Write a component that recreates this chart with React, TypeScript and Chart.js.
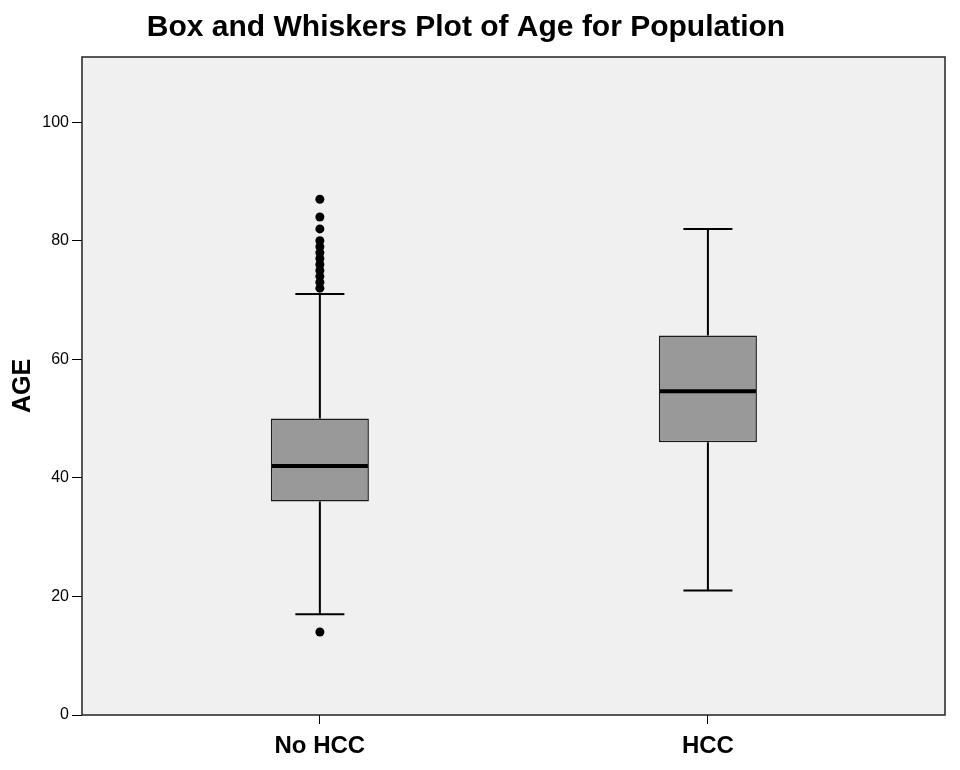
import React, { useEffect, useRef } from "react";
import { Chart, registerables } from "chart.js";

Chart.register(...registerables);

const title = "Box and Whiskers Plot of Age for Population";
const categories = ["No HCC", "HCC"];
const q1 = [36, 46];
const q3 = [50, 64];
const medians = [42, 54.6];
const whiskerLow = [17, 21];
const whiskerHigh = [71, 82];
const outliersNoHCC = [14, 72, 73, 74, 75, 76, 77, 78, 79, 80, 82, 84, 87];
const outliersHCC: number[] = [];
const yTicks = [0, 20, 40, 60, 80, 100];

const FONT = "'Liberation Sans', Arial, sans-serif";

const framePlugin = {
  id: "frame",
  beforeDraw(chart: any) {
    const { ctx, chartArea: a } = chart;
    ctx.save();
    ctx.fillStyle = "#ffffff";
    ctx.fillRect(0, 0, chart.width, chart.height);
    ctx.fillStyle = "#f0f0f0";
    ctx.fillRect(a.left, a.top, a.right - a.left, a.bottom - a.top);
    ctx.restore();
  },
  afterDraw(chart: any) {
    const { ctx, chartArea: a } = chart;
    ctx.save();
    ctx.strokeStyle = "#222222";
    ctx.lineWidth = 1.5;
    ctx.strokeRect(a.left, a.top, a.right - a.left, a.bottom - a.top);
    ctx.fillStyle = "#000000";
    ctx.font = `bold 30px ${FONT}`;
    ctx.textAlign = "center";
    ctx.textBaseline = "middle";
    ctx.fillText(title, 466, 28);
    ctx.restore();
  },
};

const whiskerPlugin = {
  id: "whiskers",
  afterDatasetsDraw(chart: any) {
    const { ctx } = chart;
    const y = chart.scales.y;
    const meta = chart.getDatasetMeta(0);
    ctx.save();
    ctx.strokeStyle = "#000000";
    categories.forEach((_, i) => {
      const bar = meta.data[i];
      if (!bar) return;
      const x = bar.x;
      const w = bar.width;
      const yHi = y.getPixelForValue(whiskerHigh[i]);
      const yLo = y.getPixelForValue(whiskerLow[i]);
      const yQ1 = y.getPixelForValue(q1[i]);
      const yQ3 = y.getPixelForValue(q3[i]);
      const yMed = y.getPixelForValue(medians[i]);
      ctx.lineWidth = 2;
      ctx.beginPath();
      ctx.moveTo(x, yHi);
      ctx.lineTo(x, yQ3);
      ctx.moveTo(x, yQ1);
      ctx.lineTo(x, yLo);
      ctx.moveTo(x - w / 4, yHi);
      ctx.lineTo(x + w / 4, yHi);
      ctx.moveTo(x - w / 4, yLo);
      ctx.lineTo(x + w / 4, yLo);
      ctx.stroke();
      ctx.lineWidth = 4;
      ctx.beginPath();
      ctx.moveTo(x - w / 2 + 1, yMed);
      ctx.lineTo(x + w / 2 - 1, yMed);
      ctx.stroke();
    });
    ctx.restore();
  },
};

export default function App() {
  const ref = useRef<HTMLCanvasElement | null>(null);

  useEffect(() => {
    document.body.style.margin = "0";
    if (!ref.current) return;
    const outlierPoints = [
      ...outliersNoHCC.map((v) => ({ x: 0, y: v })),
      ...outliersHCC.map((v) => ({ x: 1, y: v })),
    ];
    const chart = new Chart(ref.current, {
      type: "bar",
      data: {
        datasets: [
          {
            type: "bar",
            data: categories.map((_, i) => ({ x: i, y: [q1[i], q3[i]] })) as any,
            backgroundColor: "#999999",
            borderColor: "#1a1a1a",
            borderWidth: 1.5,
            borderSkipped: false,
            categoryPercentage: 1,
            barPercentage: 0.2526,
            order: 2,
          } as any,
          {
            type: "line",
            data: outlierPoints as any,
            showLine: false,
            pointRadius: 4.5,
            pointBackgroundColor: "#000000",
            pointBorderColor: "#000000",
            pointBorderWidth: 0,
            order: 1,
          } as any,
        ],
      },
      options: {
        animation: false,
        responsive: false,
        maintainAspectRatio: false,
        layout: { padding: { left: 0, right: 15, top: 57, bottom: 0 } },
        plugins: {
          legend: { display: false },
          tooltip: { enabled: false },
        },
        scales: {
          x: {
            type: "linear",
            min: -0.613,
            max: 1.611,
            offset: false,
            afterBuildTicks(scale: any) {
              scale.ticks = categories.map((_, i) => ({ value: i }));
            },
            grid: {
              display: true,
              offset: false,
              drawOnChartArea: false,
              drawTicks: true,
              tickLength: 9,
              color: "#000000",
            },
            border: { display: false },
            ticks: {
              color: "#000000",
              font: { family: FONT, size: 24, weight: "bold" },
              padding: 8,
              callback: (v: any) => categories[Number(v)] ?? "",
            },
            afterFit(scale: any) {
              scale.height = 55;
            },
          },
          y: {
            type: "linear",
            min: 0,
            max: 111,
            afterBuildTicks(scale: any) {
              scale.ticks = yTicks.map((v) => ({ value: v }));
            },
            grid: {
              display: true,
              offset: false,
              drawOnChartArea: false,
              drawTicks: true,
              tickLength: 10,
              color: "#000000",
            },
            border: { display: false },
            ticks: {
              color: "#000000",
              font: { family: FONT, size: 16 },
              padding: 3,
            },
            title: {
              display: true,
              text: "AGE",
              color: "#000000",
              font: { family: FONT, size: 25, weight: "bold" },
              padding: { top: 8, bottom: 0 },
            },
            afterFit(scale: any) {
              scale.width = 82;
            },
          },
        },
      },
      plugins: [framePlugin, whiskerPlugin],
    });
    return () => chart.destroy();
  }, []);

  return (
    <div style={{ width: 960, height: 770 }}>
      <canvas ref={ref} width={960} height={770} style={{ width: 960, height: 770, display: "block" }} />
    </div>
  );
}
